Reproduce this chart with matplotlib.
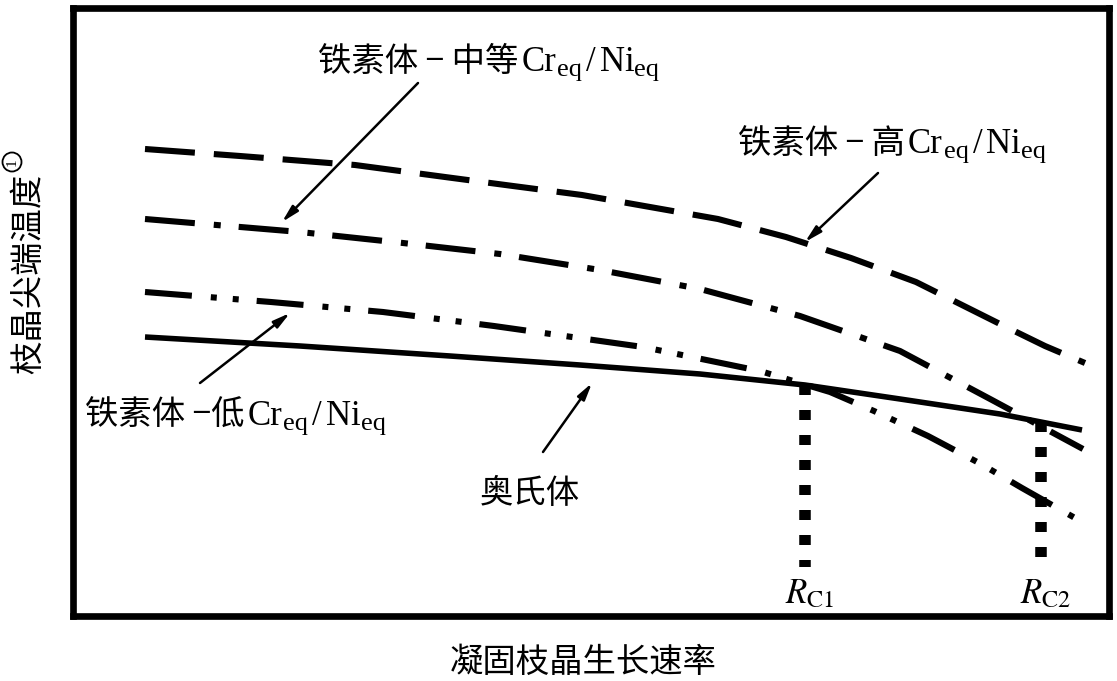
import matplotlib
matplotlib.use("Agg")
import matplotlib.pyplot as plt
import matplotlib.transforms as mtransforms
from matplotlib.patches import Ellipse

plt.rcParams['lines.scale_dashes'] = False
plt.rcParams['mathtext.fontset'] = 'stix'
plt.rcParams['font.family'] = ['Liberation Serif', 'Noto Sans CJK SC', 'DejaVu Sans']

# ---- data (arbitrary units) ----
high_x = [72, 167, 282, 372, 440, 509, 577, 645, 713, 778, 843, 927, 972, 1012]
high_y = [467, 460, 451, 439, 430, 421, 409, 397, 379, 358, 334, 292, 270, 253]

med_x = [72, 227, 330, 427, 527, 627, 727, 827, 919, 1010]
med_y = [397, 384, 373, 362, 346, 327, 300, 265, 216, 167]

low_x = [72, 198, 310, 421, 570, 687, 757, 801, 855, 908, 949, 1002]
low_y = [324, 314, 304, 290, 269, 245, 224, 205, 180, 152, 128, 98]

aus_x = [72, 227, 377, 507, 627, 732, 827, 927, 1009]
aus_y = [279, 270, 260, 251, 242, 231, 217, 202, 186]

rc_x = [732, 968]
rc_top = [231, 194]
rc_bottom = [49, 58]
rc_labels = ['$R_{\\rm C1}$', '$R_{\\rm C2}$']

label_cjk = ['铁素体 − 中等', '铁素体 − 高', '铁素体 −低', '奥氏体']
formula_parts = ['Cr', 'eq', '/', 'Ni', 'eq']
xlabel = '凝固枝晶生长速率'
ylabel = '枝晶尖端温度'

W, H = 1117, 681
fig = plt.figure(figsize=(W / 100, H / 100), dpi=100)
fig.patch.set_facecolor('white')
ax = fig.add_axes([73 / W, (H - 616) / H, 1036 / W, 608 / H])
ax.set_xlim(0, 1036)
ax.set_ylim(0, 608)
ax.set_xticks([])
ax.set_yticks([])
for s in ax.spines.values():
    s.set_linewidth(4.8)
    s.set_color('black')

px = 0.72  # pixel -> point at 100 dpi
ax.plot(high_x, high_y, color='black', lw=4.4,
        linestyle=(0, (50 * px, 19 * px)), dash_capstyle='butt')
ax.plot(med_x, med_y, color='black', lw=4.4,
        linestyle=(0, (50 * px, 19 * px, 7 * px, 18 * px)), dash_capstyle='butt')
ax.plot(low_x, low_y, color='black', lw=4.4,
        linestyle=(0, (47 * px, 19 * px, 6 * px, 16 * px, 6 * px, 18 * px)), dash_capstyle='butt')
ax.plot(aus_x, aus_y, color='black', lw=4.0, solid_capstyle='butt')

for x, t, b, lab in zip(rc_x, rc_top, rc_bottom, rc_labels):
    ax.plot([x, x], [t, b], color='black', lw=8.3,
            linestyle=(0, (10 * px, 15 * px)), dash_capstyle='butt')
    ax.text(x + 5, 13, lab, fontsize=25, ha='center', va='baseline', color='black')

# arrows (tail -> head)
arrows = [((345, 533), (209, 394)),
          ((805, 443), (732, 374)),
          ((127, 233), (217, 303)),
          ((470, 164), (519, 233))]
for tail, head in arrows:
    ax.annotate('', xy=head, xytext=tail,
                arrowprops=dict(arrowstyle='-|>,head_length=1.0,head_width=0.25',
                                color='black', lw=1.8, shrinkA=0, shrinkB=0))

fig.canvas.draw()
renderer = fig.canvas.get_renderer()

def chain(x, y, pieces):
    """pieces: (text, fontsize, dy_px, gap_before_px, family)"""
    off = 0.0
    for txt, size, dy, gap, fam in pieces:
        off += gap
        tr = mtransforms.offset_copy(ax.transData, fig=fig, x=off, y=dy, units='dots')
        t = ax.text(x, y, txt, fontsize=size, va='baseline', ha='left',
                    family=fam, transform=tr, color='black')
        off += t.get_window_extent(renderer).width

cjk_fam = ['Noto Sans CJK SC', 'DejaVu Sans']
ser = ['Liberation Serif']

def label(x, y, cjk):
    chain(x, y, [(cjk, 24, 0, 0, cjk_fam),
                 (formula_parts[0], 25, 0, 3, ser),
                 (formula_parts[1], 19, -5, 1, ser),
                 (formula_parts[2], 25, 0, 4, ser),
                 (formula_parts[3], 25, 0, 4, ser),
                 (formula_parts[4], 19, -5, 0, ser)])

label(245, 545, label_cjk[0])
label(665, 463, label_cjk[1])
label(12, 191, label_cjk[2])
ax.text(457, 123, label_cjk[3], fontsize=24, ha='center', va='center',
        family=['Noto Sans CJK SC'], color='black')

fig.text(583 / W, 1 - 662 / H, xlabel, fontsize=24, ha='center', va='center',
         family=['Noto Sans CJK SC'])
fig.text(29 / W, 1 - 274 / H, ylabel, fontsize=24, ha='center', va='center',
         rotation=90, family=['Noto Sans CJK SC'])
# circled 1 (superscript note marker)
fig.add_artist(Ellipse((12 / W, 1 - 162 / H), 19 / W, 19 / H, transform=fig.transFigure,
                       fill=False, edgecolor='black', lw=1.3))
fig.text(12 / W, 1 - 162 / H, '1', fontsize=11, ha='center', va='center',
         rotation=90, family='Liberation Serif')

fig.savefig('out.png', dpi=100, facecolor='white')
